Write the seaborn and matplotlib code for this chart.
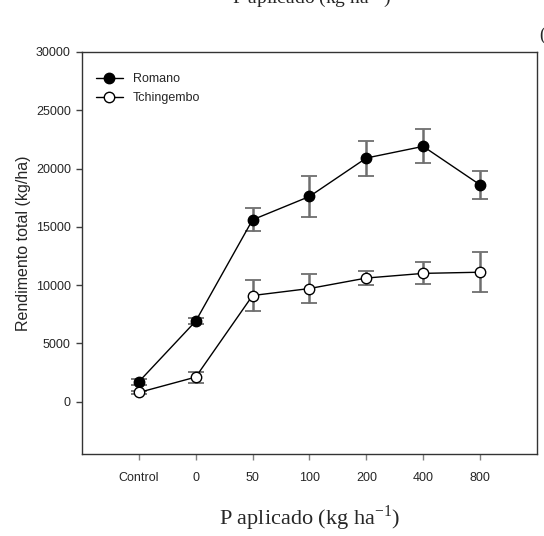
import numpy as np
import pandas as pd
import matplotlib
matplotlib.use('Agg')
import matplotlib.pyplot as plt
import seaborn as sns

# --- data ---
doses = ['Control', '0', '50', '100', '200', '400', '800']
romano_mean = [1700, 6900, 15600, 17600, 20900, 21900, 18600]
romano_err = [250, 250, 1000, 1800, 1500, 1450, 1200]
tching_mean = [780, 2100, 9100, 9700, 10600, 11000, 11100]
tching_err = [150, 470, 1300, 1250, 600, 950, 1700]

df = pd.DataFrame({
    'pos': list(range(len(doses))) * 2,
    'dose': doses * 2,
    'rend': romano_mean + tching_mean,
    'err': romano_err + tching_err,
    'variety': ['Romano'] * len(doses) + ['Tchingembo'] * len(doses),
})

sns.set_style('white')
plt.rcParams['font.family'] = ['Liberation Sans', 'DejaVu Sans']
plt.rcParams['axes.unicode_minus'] = False

fig = plt.figure(figsize=(5.44, 5.36), dpi=100)
ax = fig.add_axes([0.1507, 0.153, 0.8363, 0.750])

# --- error bars: grey stems, black caps ---
for v in ['Romano', 'Tchingembo']:
    sub = df[df['variety'] == v]
    eb = ax.errorbar(sub['pos'], sub['rend'], yerr=sub['err'], fmt='none',
                     ecolor='#6e6e6e', elinewidth=1.8, capsize=5.5, capthick=1.3, zorder=2)
    for cap in eb[1]:
        cap.set_color('black')

# --- lines + markers ---
face = {'Romano': 'black', 'Tchingembo': 'white'}
for v in ['Romano', 'Tchingembo']:
    sub = df[df['variety'] == v]
    sns.lineplot(data=sub, x='pos', y='rend', ax=ax, color='black', linewidth=1,
                 marker='o', markersize=7.5, markerfacecolor=face[v],
                 markeredgecolor='black', markeredgewidth=1, label=v, zorder=3)

ax.set_xlim(-1, 7)
ax.set_ylim(-4500, 30000)
ax.set_xticks(range(len(doses)))
ax.set_xticklabels(doses)
ax.set_yticks(np.arange(0, 30001, 5000))
ax.tick_params(axis='x', direction='out', length=4, width=1, color='#808080',
               pad=9, labelsize=9, bottom=True)
ax.tick_params(axis='y', direction='out', length=4, width=1, color='#404040',
               pad=4, labelsize=9, left=True)

for s in ax.spines.values():
    s.set_visible(True)
    s.set_color('#333333')
    s.set_linewidth(1)

ax.set_xlabel('P aplicado (kg ha$^{\\mathregular{-1}}$)', fontsize=16, family='Liberation Serif')
ax.xaxis.set_label_coords(0.5, -0.122)
ax.set_ylabel('Rendimento total (kg/ha)', fontsize=11.5)
ax.yaxis.set_label_coords(-0.112, 0.525)

leg = ax.legend(loc='upper left', bbox_to_anchor=(0.005, 0.975), frameon=False,
                fontsize=9, handlelength=2.2, handletextpad=0.8, labelspacing=0.55)

# cut-off texts from the neighbouring panel of the original page
fig.text(0.573, 0.9945, 'P aplicado (kg ha$^{\\mathregular{-1}}$)', fontsize=14,
         family='Liberation Serif', ha='center', va='baseline')
fig.text(0.991, 0.926, '(a)', fontsize=13, family='Liberation Serif',
         ha='left', va='baseline')

fig.savefig('out.png', dpi=100)
